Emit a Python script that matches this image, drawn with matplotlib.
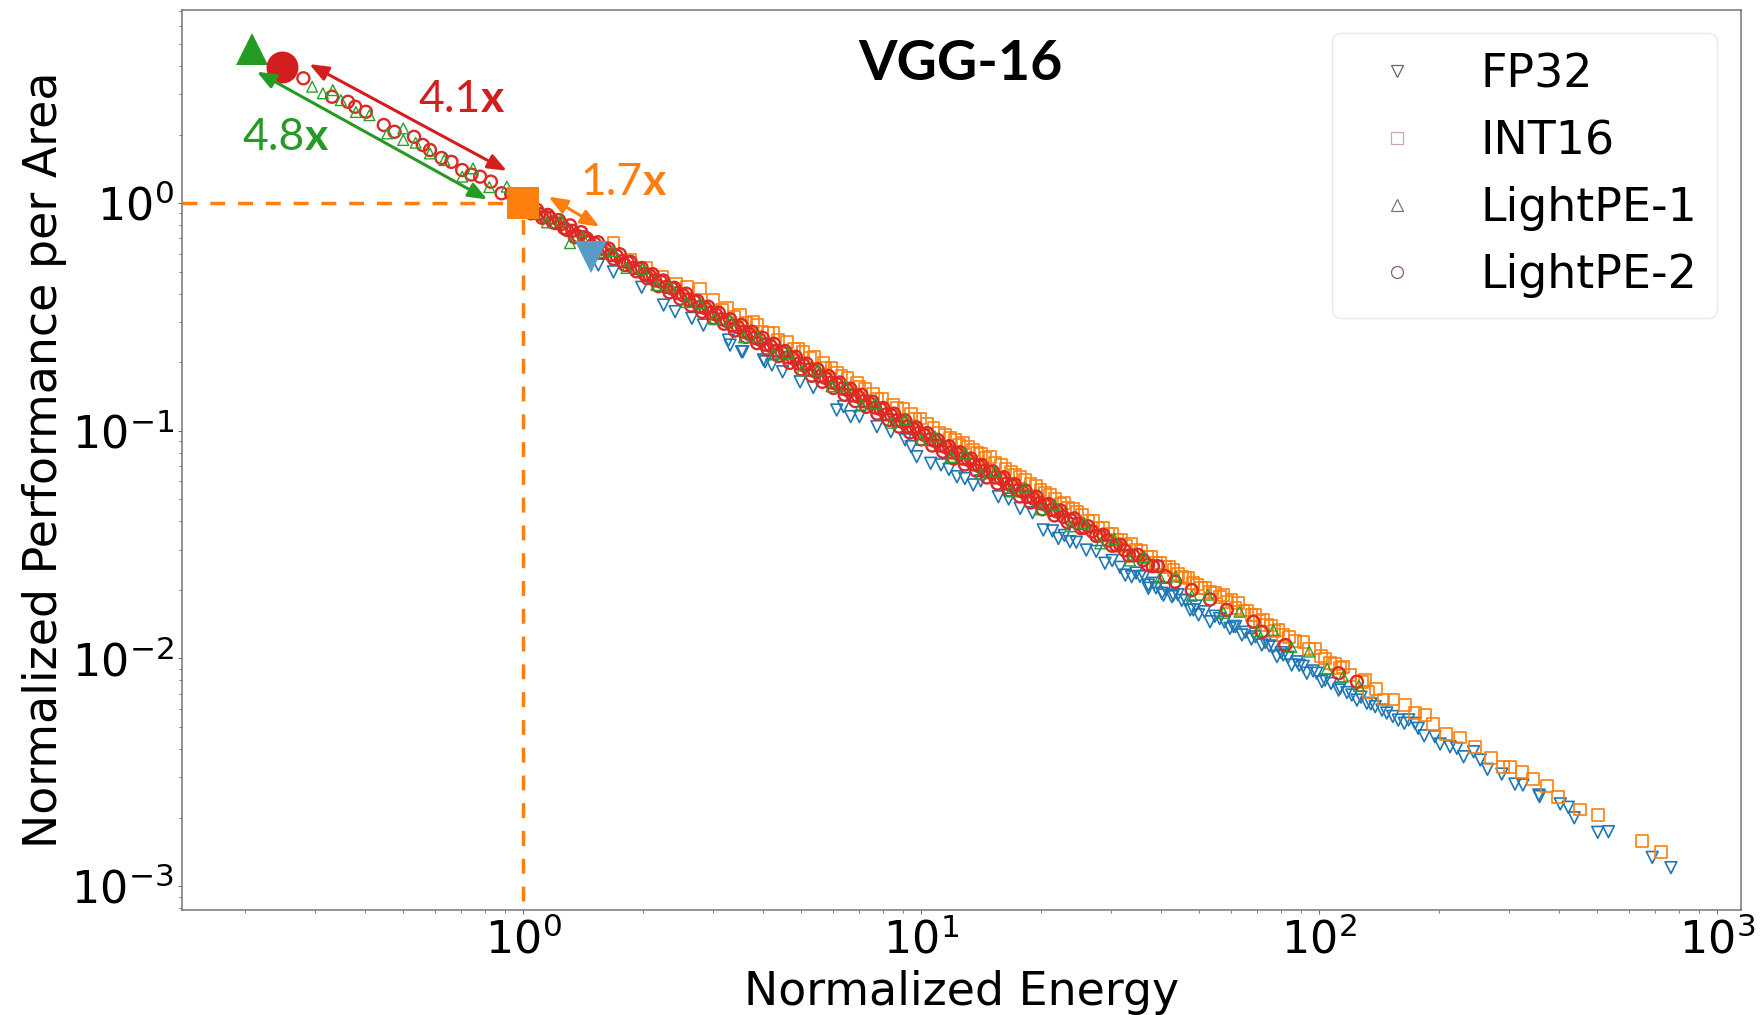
import numpy as np
import matplotlib
matplotlib.use('Agg')
import matplotlib.pyplot as plt
from matplotlib.lines import Line2D

# all values, as log10 of the axis value

fp32_x = [0.189,0.227,0.298,0.353,0.382,0.424,0.453,0.516,0.520,0.549,
          0.552,0.604,0.608,0.625,0.652,0.696,0.729,0.788,0.805,0.823,
          0.845,0.889,0.924,0.960,0.975,0.989,1.024,1.050,1.070,1.090,
          1.110,1.131,1.150,1.194,1.220,1.249,1.280,1.307,1.330,1.345,
          1.360,1.374,1.390,1.415,1.440,1.462,1.480,1.500,1.513,1.529,
          1.550,1.571,1.571,1.590,1.605,1.609,1.630,1.634,1.655,1.676,
          1.684,1.697,1.726,1.750,1.776,1.790,1.806,1.830,1.856,1.875,
          1.894,1.910,1.931,1.950,1.969,1.994,2.007,2.015,2.049,2.053,
          2.082,2.095,2.120,2.141,2.158,2.199,2.214,2.241,2.249,2.264,
          2.291,2.304,2.329,2.346,2.363,2.388,2.405,2.423,2.459,2.492,
          2.512,2.552,2.554,2.606,2.626,2.641,2.700,2.727,2.837,2.884,
          1.540,1.560,1.585,1.615,1.645,1.665,1.690,1.712,1.738,1.762,
          1.785,1.815,1.840,1.865,1.885,1.905,1.922,1.945,1.960,1.985,
          2.030,2.070,2.105,2.130,2.170,2.185,2.225]
fp32_y = [-0.272,-0.302,-0.370,-0.448,-0.477,-0.506,-0.536,-0.602,-0.624,-0.653,
          -0.653,-0.689,-0.697,-0.711,-0.741,-0.785,-0.810,-0.909,-0.894,-0.938,
          -0.938,-0.982,-1.004,-1.040,-1.070,-1.114,-1.143,-1.150,-1.170,-1.202,
          -1.210,-1.238,-1.220,-1.290,-1.300,-1.341,-1.360,-1.436,-1.440,-1.473,
          -1.460,-1.487,-1.490,-1.524,-1.530,-1.582,-1.570,-1.600,-1.634,-1.641,
          -1.640,-1.678,-1.692,-1.690,-1.714,-1.722,-1.729,-1.722,-1.745,-1.787,
          -1.787,-1.809,-1.839,-1.825,-1.868,-1.860,-1.897,-1.915,-1.941,-1.945,
          -1.992,-1.985,-2.029,-2.030,-2.065,-2.065,-2.102,-2.095,-2.139,-2.131,
          -2.161,-2.183,-2.197,-2.212,-2.227,-2.271,-2.285,-2.285,-2.307,-2.340,
          -2.344,-2.376,-2.388,-2.395,-2.432,-2.410,-2.446,-2.487,-2.508,-2.552,
          -2.556,-2.600,-2.607,-2.639,-2.654,-2.700,-2.764,-2.761,-2.874,-2.919,
          -1.625,-1.640,-1.670,-1.695,-1.720,-1.745,-1.770,-1.795,-1.815,-1.840,
          -1.860,-1.885,-1.905,-1.930,-1.950,-1.975,-1.995,-2.015,-2.035,-2.055,
          -2.110,-2.150,-2.170,-2.200,-2.240,-2.255,-2.270]

int16_x = [0.227,0.270,0.310,0.350,0.385,0.411,0.445,0.478,0.512,0.545,
           0.579,0.587,0.616,0.629,0.663,0.690,0.704,0.730,0.755,0.775,
           0.788,0.815,0.838,0.860,0.880,0.901,0.930,0.956,0.975,0.997,
           1.015,1.031,1.060,1.085,1.106,1.130,1.150,1.173,1.200,1.225,
           1.249,1.275,1.300,1.324,1.350,1.370,1.391,1.420,1.445,1.470,
           1.492,1.515,1.540,1.567,1.590,1.612,1.634,1.655,1.672,1.694,
           1.714,1.738,1.760,1.780,1.797,1.820,1.840,1.860,1.880,1.898,
           1.925,1.961,1.990,2.015,2.040,2.053,2.061,2.078,2.107,2.116,
           2.124,2.143,2.162,2.187,2.216,2.241,2.266,2.287,2.318,2.354,
           2.392,2.432,2.463,2.480,2.509,2.537,2.572,2.601,2.656,2.700,
           2.812,2.859,
           1.045,1.072,1.096,1.118,1.140,1.162,1.186,1.212,1.236,1.262,
           1.288,1.312,1.337,1.360,1.381,1.405,1.432,1.458,1.481,1.503,
           1.528,1.552,1.578,1.600,1.623,1.645,1.664,1.683,1.704,1.726,
           1.750,1.770,1.790,1.808,1.830,1.850,1.870,1.888,1.910,1.940,
           1.975,2.004,2.028,0.500,0.530,0.560,0.600,0.640,0.680,0.720,
           0.760,0.800,0.845,0.890,0.940,0.985]
int16_y = [-0.177,-0.250,-0.285,-0.325,-0.355,-0.368,-0.375,-0.426,-0.462,-0.490,
           -0.521,-0.536,-0.572,-0.572,-0.609,-0.640,-0.653,-0.675,-0.704,-0.725,
           -0.748,-0.770,-0.792,-0.815,-0.836,-0.858,-0.885,-0.902,-0.925,-0.946,
           -0.970,-0.989,-1.020,-1.040,-1.055,-1.085,-1.100,-1.114,-1.150,-1.180,
           -1.202,-1.235,-1.260,-1.282,-1.320,-1.340,-1.356,-1.395,-1.425,-1.455,
           -1.480,-1.505,-1.525,-1.553,-1.580,-1.598,-1.612,-1.640,-1.648,-1.675,
           -1.692,-1.710,-1.722,-1.745,-1.758,-1.790,-1.810,-1.831,-1.855,-1.875,
           -1.905,-1.927,-1.956,-2.000,-2.025,-2.043,-2.036,-2.073,-2.102,-2.095,
           -2.146,-2.136,-2.180,-2.180,-2.205,-2.241,-2.249,-2.288,-2.332,-2.347,
           -2.388,-2.439,-2.476,-2.476,-2.498,-2.531,-2.559,-2.607,-2.664,-2.688,
           -2.802,-2.850,
           -1.010,-1.032,-1.062,-1.072,-1.098,-1.118,-1.140,-1.168,-1.192,-1.215,
           -1.242,-1.272,-1.298,-1.318,-1.345,-1.368,-1.398,-1.428,-1.452,-1.480,
           -1.498,-1.528,-1.552,-1.580,-1.600,-1.628,-1.645,-1.668,-1.690,-1.708,
           -1.730,-1.752,-1.778,-1.790,-1.808,-1.835,-1.852,-1.878,-1.898,-1.922,
           -1.958,-1.990,-2.020,-0.470,-0.500,-0.525,-0.565,-0.600,-0.640,-0.680,
           -0.725,-0.760,-0.808,-0.858,-0.900,-0.950]

pe1_x = [-0.530,-0.503,-0.478,-0.458,-0.420,-0.386,-0.341,-0.301,-0.301,-0.270,
         -0.234,-0.198,-0.153,-0.126,-0.085,-0.041,-0.010,0.030,0.060,0.095,
         0.118,0.150,0.190,0.225,0.260,0.300,0.335,0.370,0.410,0.445,
         0.480,0.520,0.555,0.590,0.630,0.665,0.700,0.740,0.775,0.810,
         0.850,0.885,0.925,0.960,1.000,1.035,1.075,1.110,1.150,1.185,
         1.225,1.260,1.300,1.335,1.375,1.410,1.450,1.485,1.525,1.560,
         1.600,1.640,1.680,1.720,1.760,1.800,1.845,1.885,1.930,1.975,
         2.020,2.060,2.100]
pe1_y = [0.511,0.482,0.496,0.452,0.400,0.386,0.306,0.328,0.277,0.265,
         0.218,0.189,0.116,0.152,0.070,0.072,0.020,-0.045,-0.085,-0.075,
         -0.176,-0.150,-0.215,-0.210,-0.285,-0.290,-0.360,-0.365,-0.435,-0.440,
         -0.510,-0.515,-0.590,-0.585,-0.665,-0.660,-0.735,-0.735,-0.805,-0.805,
         -0.885,-0.880,-0.965,-0.950,-1.040,-1.025,-1.115,-1.100,-1.190,-1.180,
         -1.265,-1.250,-1.345,-1.325,-1.420,-1.405,-1.495,-1.475,-1.570,-1.555,
         -1.645,-1.640,-1.725,-1.720,-1.800,-1.795,-1.880,-1.875,-1.950,-1.970,
         -2.045,-2.080,-2.120]

pe2_x = [-0.552,-0.480,-0.440,-0.422,-0.395,-0.350,-0.323,-0.274,-0.252,-0.234,
         -0.180,-0.153,-0.108,-0.081,-0.054,-0.205,-0.130,-0.030,-0.012,0.006,
         0.020,0.035,0.048,0.062,0.075,0.090,0.103,0.118,0.130,0.146,
         0.160,0.172,0.188,0.200,0.215,0.228,0.243,0.256,0.270,0.285,
         0.298,0.312,0.325,0.340,0.352,0.368,0.380,0.395,0.410,0.422,
         0.438,0.450,0.465,0.478,0.492,0.505,0.520,0.532,0.548,0.560,
         0.575,0.588,0.602,0.615,0.630,0.642,0.658,0.670,0.685,0.698,
         0.712,0.725,0.740,0.752,0.768,0.780,0.795,0.808,0.822,0.835,
         0.850,0.862,0.878,0.890,0.905,0.918,0.932,0.945,0.960,0.972,
         0.988,1.000,1.015,1.028,1.042,1.055,1.070,1.082,1.098,1.110,
         1.125,1.138,1.152,1.165,1.180,1.192,1.208,1.220,1.235,1.248,
         1.262,1.275,1.290,1.305,1.320,1.335,1.350,1.368,1.385,1.402,
         1.420,1.440,1.458,1.480,1.500,1.522,1.545,1.570,1.595,1.615,
         1.638,1.680,1.726,1.768,1.835,1.856,1.915,2.049,2.095,
         0.027,0.041,0.055,0.068,0.082,0.096,0.110,0.124,0.138,0.153,
         0.166,0.180,0.194,0.207,0.221,0.235,0.249,0.263,0.277,0.291,
         0.305,0.318,0.332,0.346,0.360,0.374,0.388,0.402,0.416,0.430,
         0.444,0.458,0.472,0.485,0.498,0.512,0.526,0.540,0.554,0.568,
         0.582,0.595,0.608,0.622,0.636,0.650,0.664,0.678,0.692,0.705,
         0.718,0.732,0.746,0.760,0.774,0.788,0.802,0.815,0.828,0.842,
         0.856,0.870,0.884,0.898,0.912,0.925,0.938,0.952,0.966,0.980,
         0.994,1.008,1.022,1.035,1.048,1.062,1.076,1.090,1.104,1.118,
         1.132,1.145,1.158,1.172,1.186,1.200,1.214,1.228,1.242,1.255,
         1.268,1.282,1.298,1.312,1.328,1.342,1.358,1.376,1.394,1.410,
         1.430,1.449,1.469,1.490,1.511,1.533,1.558,1.582]
pe2_y = [0.548,0.467,0.445,0.423,0.401,0.343,0.313,0.291,0.255,0.233,
         0.181,0.145,0.116,0.094,0.043,0.198,0.125,0.040,0.010,-0.012,
         -0.045,-0.030,-0.065,-0.052,-0.085,-0.075,-0.110,-0.098,-0.150,-0.128,
         -0.155,-0.190,-0.172,-0.218,-0.200,-0.245,-0.225,-0.272,-0.258,-0.300,
         -0.285,-0.330,-0.312,-0.365,-0.340,-0.392,-0.372,-0.420,-0.398,-0.450,
         -0.430,-0.478,-0.455,-0.505,-0.482,-0.530,-0.510,-0.560,-0.535,-0.588,
         -0.565,-0.615,-0.592,-0.645,-0.618,-0.672,-0.650,-0.702,-0.675,-0.730,
         -0.705,-0.758,-0.730,-0.785,-0.760,-0.812,-0.788,-0.842,-0.815,-0.870,
         -0.842,-0.895,-0.872,-0.925,-0.900,-0.952,-0.925,-0.982,-0.955,-1.008,
         -0.985,-1.038,-1.010,-1.065,-1.040,-1.092,-1.068,-1.122,-1.095,-1.148,
         -1.122,-1.175,-1.150,-1.205,-1.178,-1.232,-1.205,-1.262,-1.235,-1.288,
         -1.262,-1.315,-1.290,-1.345,-1.322,-1.372,-1.350,-1.402,-1.385,-1.428,
         -1.420,-1.462,-1.458,-1.505,-1.500,-1.548,-1.545,-1.590,-1.595,-1.640,
         -1.663,-1.700,-1.741,-1.787,-1.839,-1.883,-1.941,-2.065,-2.102,
         -0.040,-0.048,-0.060,-0.065,-0.088,-0.092,-0.118,-0.122,-0.145,-0.150,
         -0.172,-0.178,-0.200,-0.205,-0.228,-0.232,-0.255,-0.260,-0.285,-0.288,
         -0.312,-0.318,-0.340,-0.345,-0.368,-0.375,-0.395,-0.405,-0.425,-0.432,
         -0.455,-0.462,-0.482,-0.490,-0.510,-0.518,-0.538,-0.545,-0.565,-0.575,
         -0.592,-0.600,-0.622,-0.628,-0.648,-0.655,-0.678,-0.682,-0.705,-0.712,
         -0.732,-0.738,-0.760,-0.768,-0.788,-0.795,-0.815,-0.822,-0.845,-0.850,
         -0.870,-0.878,-0.898,-0.905,-0.928,-0.932,-0.955,-0.960,-0.982,-0.990,
         -1.010,-1.018,-1.038,-1.045,-1.065,-1.072,-1.095,-1.100,-1.122,-1.128,
         -1.148,-1.155,-1.178,-1.182,-1.205,-1.210,-1.232,-1.240,-1.262,-1.268,
         -1.290,-1.298,-1.318,-1.325,-1.348,-1.355,-1.378,-1.392,-1.408,-1.425,
         -1.442,-1.460,-1.482,-1.503,-1.525,-1.548,-1.568,-1.595]

# the big filled markers
best_x = [0.170, 0.0, -0.680, -0.607]
best_y = [-0.237, 0.0, 0.676, 0.597]

labels = ['FP32', 'INT16', 'LightPE-1', 'LightPE-2']
colors = ['#1f77b4', '#ff7f0e', '#2ca02c', '#d62728']
markers = ['v', 's', '^', 'o']
fill_colors = ['#5a9ac6', '#ff7f0e', '#259a25', '#d41e1e']

W, H = 1763, 1015
fig = plt.figure(figsize=(W / 100, H / 100), dpi=100)
ax = fig.add_axes([182 / W, (H - 910) / H, 1559 / W, 900 / H])
ax.set_xscale('log')
ax.set_yscale('log')
ax.set_xlim(10 ** -0.857, 10 ** 3.06)
ax.set_ylim(10 ** -3.105, 10 ** 0.848)

# green goes last so it flecks through the red band
ax.scatter(10 ** np.array(fp32_x), 10 ** np.array(fp32_y), s=72, marker='v',
           facecolors='none', edgecolors=colors[0], linewidths=1.2, zorder=3)
ax.scatter(10 ** np.array(int16_x), 10 ** np.array(int16_y), s=72, marker='s',
           facecolors='none', edgecolors=colors[1], linewidths=1.2, zorder=3)
ax.scatter(10 ** np.array(pe2_x), 10 ** np.array(pe2_y), s=75, marker='o',
           facecolors='none', edgecolors='#dc2a25', linewidths=1.7, zorder=3)
ax.scatter(10 ** np.array(pe1_x), 10 ** np.array(pe1_y), s=60, marker='^',
           facecolors='none', edgecolors=colors[2], linewidths=1.0, zorder=3)

# dashed guide to the INT16 baseline
xmin, ymin = ax.get_xlim()[0], ax.get_ylim()[0]
ax.plot([xmin, 1], [1, 1], color='#ff7f0e', lw=2.5, ls=(0, (4.3, 3.7)), zorder=4)
ax.plot([1, 1], [ymin * 1.09, 1], color='#ff7f0e', lw=2.5, ls=(0, (4.3, 3.7)), zorder=4)

for i in range(4):
    ax.plot(10 ** best_x[i], 10 ** best_y[i], marker=markers[i], ms=23,
            color=fill_colors[i], mew=0, ls='none', zorder=6)


def arrow(x0, y0, x1, y1, col):
    ax.annotate('', xy=(10 ** x1, 10 ** y1), xytext=(10 ** x0, 10 ** y0),
                arrowprops=dict(arrowstyle='<|-|>,head_length=0.45,head_width=0.18',
                                mutation_scale=25, color=col, lw=2.2,
                                shrinkA=0, shrinkB=0), zorder=7)


arrow(-0.537, 0.610, -0.041, 0.142, '#d41e1e')
arrow(-0.669, 0.577, -0.090, 0.016, '#259a25')
arrow(0.064, 0.028, 0.192, -0.104, '#ff7f0e')


def ratio(px, py, num, col):
    fig.text(px / W, 1 - py / H, num, color=col, family='Lato', fontsize=32,
             ha='right', va='baseline')
    fig.text(px / W, 1 - py / H, 'x', color=col, family='Lato', fontsize=32,
             fontweight='bold', ha='left', va='baseline')


ratio(481, 112, '4.1', '#d41e1e')
ratio(305, 150, '4.8', '#259a25')
ratio(643, 195, '1.7', '#ff7f0e')

fig.text(961 / W, 1 - 64 / H, 'VGG-16', family='Lato', fontweight='bold',
         fontsize=40, ha='center', va='center', color='black')

ax.set_xlabel('Normalized Energy', fontsize=33, labelpad=5)
ax.set_ylabel('Normalized Performance per Area', fontsize=33, labelpad=3)
ax.tick_params(which='major', labelsize=32, length=3, width=0.7, color='#666666', pad=3)
ax.tick_params(which='minor', length=2, width=0.6, color='#666666')
for sp in ax.spines.values():
    sp.set_color('#777777')
    sp.set_linewidth(1.1)

handles = [Line2D([], [], ls='none', marker=markers[i], ms=8.6, mfc='none', mew=0.9,
                  mec=['#666666', '#c8a8a8', '#777777', '#8a6068'][i])
           for i in range(4)]
leg = ax.legend(handles, labels, loc='upper right', fontsize=33,
                bbox_to_anchor=((1717 - 182) / 1559, 1 - (33 - 10) / 900),
                borderaxespad=0, borderpad=0.42, handlelength=2.0, handletextpad=0.83,
                labelspacing=0.48)
leg.get_frame().set_edgecolor('#e4e4e4')

plt.savefig('out.png', dpi=100)
